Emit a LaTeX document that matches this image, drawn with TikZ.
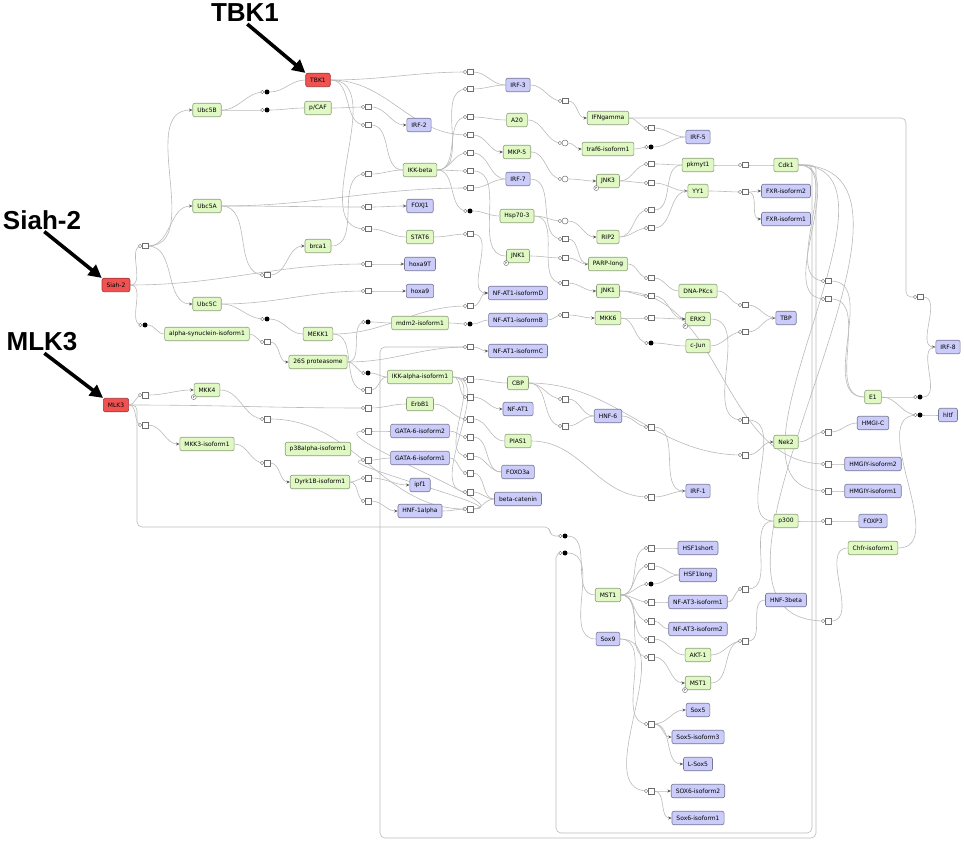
\documentclass[tikz,border=0pt]{standalone}
\usepackage{fontspec}
\setmainfont{DejaVu Sans}
\newfontfamily\calloutfont{Liberation Sans}
\usetikzlibrary{arrows.meta}
\definecolor{genegreen}{RGB}{224,248,196}
\definecolor{greenedge}{RGB}{140,160,120}
\definecolor{geneblue}{RGB}{204,204,250}
\definecolor{blueedge}{RGB}{118,118,150}
\definecolor{genered}{RGB}{240,82,82}
\definecolor{rededge}{RGB}{170,50,50}
\definecolor{procedge}{RGB}{110,110,110}
\definecolor{wiregray}{RGB}{186,186,186}
\definecolor{tipgray}{RGB}{90,90,90}
\pgfdeclarelayer{wires}
\pgfsetlayers{wires,main}

\begin{document}
\begin{tikzpicture}[x=1pt, y=-1pt,
    gene/.style={draw, rounded corners=2pt, minimum height=13.5pt, inner xsep=4.5pt, inner ysep=0pt, line width=0.6pt, font=\fontsize{6}{6}\selectfont},
    protein/.style={gene, fill=genegreen, draw=greenedge},
    factor/.style={gene, fill=geneblue, draw=blueedge},
    seed/.style={gene, fill=genered, draw=rededge},
    port/.style={circle, draw=procedge, fill=white, minimum size=3.5pt, inner sep=0pt, line width=0.4pt},
    proc/.style={draw=procedge, fill=white, minimum size=5.5pt, inner sep=0pt, line width=0.5pt, label={[port]west:}},
    ubq/.style={circle, fill=black, minimum size=5pt, inner sep=0pt, label={[port]west:}},
    assoc/.style={circle, draw=procedge, fill=white, minimum size=6pt, inner sep=0pt, line width=0.5pt, label={[port]west:}},
    pstate/.style={circle, draw=procedge, fill=white, inner sep=0pt, minimum size=5pt, line width=0.4pt, font=\fontsize{3}{3}\selectfont, anchor=center},
    phos/.style={label={[pstate]south west:P}},
    wire/.style={draw=wiregray, line width=0.6pt},
    act/.style={wire, -{Stealth[length=3.5pt, width=3pt, color=tipgray]}},
    callout/.style={font=\calloutfont\bfseries\fontsize{26}{26}\selectfont, inner sep=0pt},
    pointer/.style={line width=3.6pt, shorten <=3pt, -{Triangle[length=13pt, width=13pt]}}
]
\useasboundingbox (0,0) rectangle (964,842);

\node[seed] (tbk1) at (318,80) {TBK1};
\node[seed] (siah) at (116,285) {Siah-2};
\node[seed] (mlk3) at (116,405) {MLK3};

\node[protein] (ubc5b) at (207,110) {Ubc5B};
\node[protein] (pcaf) at (318,108) {p/CAF};
\node[protein] (ubc5a) at (207,206) {Ubc5A};
\node[protein] (brca1) at (318,246) {brca1};
\node[protein] (ubc5c) at (207,304) {Ubc5C};
\node[protein] (asyn) at (207,334) {alpha-synuclein-isoform1};
\node[protein] (mekk1) at (318,334) {MEKK1};
\node[protein] (prot) at (318,362) {26S proteasome};
\node[protein,phos] (mkk4) at (207,390) {MKK4};
\node[protein] (mkk3) at (207,444) {MKK3-isoform1};
\node[protein] (p38) at (318,449) {p38alpha-isoform1};
\node[protein] (dyrk) at (320,482) {Dyrk1B-isoform1};
\node[protein] (ikkb) at (420,170) {IKK-beta};
\node[protein] (stat6) at (420,237) {STAT6};
\node[protein] (mdm2) at (420,323) {mdm2-isoform1};
\node[protein] (ikka) at (420,377) {IKK-alpha-isoform1};
\node[protein] (erbb1) at (420,404) {ErbB1};
\node[protein] (a20) at (517,120) {A20};
\node[protein] (mkp5) at (517,152) {MKP-5};
\node[protein] (hsp) at (517,216) {Hsp70-3};
\node[protein,phos] (jnk1a) at (518,256) {JNK1};
\node[protein] (cbp) at (518,383) {CBP};
\node[protein] (pias1) at (518,441) {PIAS1};
\node[protein] (ifng) at (608,118) {IFNgamma};
\node[protein] (traf6) at (608,149) {traf6-isoform1};
\node[protein,phos] (jnk3) at (608,181) {JNK3};
\node[protein] (rip2) at (608,237) {RIP2};
\node[protein] (parp) at (608,264) {PARP-long};
\node[protein] (jnk1b) at (608,291) {JNK1};
\node[protein] (mkk6) at (608,318) {MKK6};
\node[protein] (msta) at (608,595) {MST1};
\node[protein] (pkmyt) at (698,165) {pkmyt1};
\node[protein] (yy1) at (698,191) {YY1};
\node[protein] (dnapk) at (698,291) {DNA-PKcs};
\node[protein,phos] (erk2) at (698,319) {ERK2};
\node[protein] (cjun) at (698,346) {c-Jun};
\node[protein] (akt1) at (698,655) {AKT-1};
\node[protein,phos] (mstb) at (698,683) {MST1};
\node[protein] (cdk1) at (786,165) {Cdk1};
\node[protein] (nek2) at (786,442) {Nek2};
\node[protein] (p300) at (786,521) {p300};
\node[protein] (e1) at (873,397) {E1};
\node[protein] (chfr) at (873,548) {Chfr-isoform1};

\node[factor] (irf2) at (419,125) {IRF-2};
\node[factor] (foxj1) at (420,206) {FOXJ1};
\node[factor] (hoxa9t) at (420,264) {hoxa9T};
\node[factor] (hoxa9) at (420,291) {hoxa9};
\node[factor] (gata2) at (420,431) {GATA-6-isoform2};
\node[factor] (gata1) at (420,458) {GATA-6-isoform1};
\node[factor] (ipf1) at (420,485) {ipf1};
\node[factor] (hnf1a) at (420,511) {HNF-1alpha};
\node[factor] (irf3) at (518,85) {IRF-3};
\node[factor] (irf7) at (518,179) {IRF-7};
\node[factor] (nfatd) at (518,293) {NF-AT1-isoformD};
\node[factor] (nfatb) at (518,320) {NF-AT1-isoformB};
\node[factor] (nfatc) at (518,351) {NF-AT1-isoformC};
\node[factor] (nfat1) at (518,409) {NF-AT1};
\node[factor] (foxo3a) at (518,472) {FOXO3a};
\node[factor] (bcat) at (518,499) {beta-catenin};
\node[factor] (hnf6) at (608,416) {HNF-6};
\node[factor] (sox9) at (608,639) {Sox9};
\node[factor] (irf5) at (698,137) {IRF-5};
\node[factor] (irf1) at (698,491) {IRF-1};
\node[factor] (hsf1s) at (698,548) {HSF1short};
\node[factor] (hsf1l) at (698,575) {HSF1long};
\node[factor] (nfat3a) at (698,602) {NF-AT3-isoform1};
\node[factor] (nfat3b) at (698,629) {NF-AT3-isoform2};
\node[factor] (sox5) at (698,710) {Sox5};
\node[factor] (sox5i) at (698,737) {Sox5-isoform3};
\node[factor] (lsox5) at (698,764) {L-Sox5};
\node[factor] (sox6b) at (698,791) {SOX6-isoform2};
\node[factor] (sox6a) at (698,818) {Sox6-isoform1};
\node[factor] (fxr2) at (786,191) {FXR-isoform2};
\node[factor] (fxr1) at (786,219) {FXR-isoform1};
\node[factor] (tbp) at (786,318) {TBP};
\node[factor] (hnf3b) at (786,600) {HNF-3beta};
\node[factor] (hmgic) at (873,423) {HMGI-C};
\node[factor] (hmgy2) at (873,464) {HMGIY-isoform2};
\node[factor] (hmgy1) at (873,491) {HMGIY-isoform1};
\node[factor] (foxp3) at (873,521) {FOXP3};
\node[factor] (irf8) at (948,347) {IRF-8};
\node[factor] (hltf) at (948,415) {hltf};

\foreach \n/\s/\y in {p1/proc/246, d1/ubq/325, p2/proc/395, p3/proc/425}
    \node[\s] (\n) at (145,\y) {};
\foreach \n/\s/\y in {d2/ubq/92, d3/ubq/110, p4/proc/275, d4/ubq/319, p5/proc/342, p6/proc/419, p7/proc/463}
    \node[\s] (\n) at (267,\y) {};
\foreach \n/\s/\y in {p8/proc/107, p9/proc/125, p10/proc/174, p11/proc/207, p12/proc/229, p13/proc/264, p14/proc/291, d5/ubq/322, d6/ubq/373, p15/proc/390, p16/proc/408, p17/proc/431, p18/proc/460, p19/proc/478, p20/proc/501}
    \node[\s] (\n) at (368,\y) {};
\foreach \n/\s/\y in {p21/proc/72, p22/proc/89, p23/proc/117, p24/proc/135, p25/proc/153, p26/proc/171, p27/proc/188, d7/ubq/211, p28/proc/234, p29/proc/306, d8/ubq/324, p30/proc/347, p31/proc/379, p32/proc/397, p33/proc/419, p34/proc/437, p35/proc/456, p36/proc/473, p37/proc/492, p38/proc/509}
    \node[\s] (\n) at (470,\y) {};
\foreach \n/\s/\y in {p39/proc/101, c1/assoc/143, c2/assoc/179, c3/assoc/221, p40/proc/239, p41/proc/258, p42/proc/283, p43/proc/315, p44/proc/399, p45/proc/426, d9/ubq/536, d10/ubq/553}
    \node[\s] (\n) at (565,\y) {};
\foreach \n/\s/\y in {p46/proc/128, d11/ubq/147, p47/proc/164, p48/proc/183, p49/proc/210, p50/proc/228, p51/proc/278, p52/proc/296, p53/proc/318, d12/ubq/343, p54/proc/427, p55/proc/497, p56/proc/548, p57/proc/566, d13/ubq/584, p58/proc/602, p59/proc/621, p60/proc/639, p61/proc/657, p62/proc/724, p63/proc/791}
    \node[\s] (\n) at (651,\y) {};
\foreach \n/\s/\y in {p64/proc/165, p65/proc/192, p66/proc/305, p67/proc/332, p68/proc/420, p69/proc/455, p70/proc/589, p71/proc/641}
    \node[\s] (\n) at (745,\y) {};
\foreach \n/\s/\y in {p72/proc/281, p73/proc/299, p74/proc/432, p75/proc/464, p76/proc/491, p77/proc/521, p78/proc/621}
    \node[\s] (\n) at (828,\y) {};
\foreach \n/\s/\y in {p79/proc/297, d14/ubq/397, d15/ubq/415}
    \node[\s] (\n) at (920,\y) {};

\coordinate (mlkdrop) at (137,527);
\coordinate (mlkrise) at (550,527);
\coordinate (ifngturn) at (906,118);
\coordinate (cdkne) at (812,833);
\coordinate (cdknw) at (556,833);
\coordinate (cdkse) at (816,838);
\coordinate (cdksw) at (380,838);

\begin{pgfonlayer}{wires}
\foreach \a/\b in {siah/p1, siah/d1, mlk3/p2, mlk3/p3, ubc5b/d2, ubc5b/d3, ubc5a/p4, ubc5c/d4, asyn/p5, mkk4/p6, mkk3/p7,
    pcaf/p8, tbk1/p9, brca1/p10, ubc5a/p11, tbk1/p12, siah/p13, ubc5c/p14, prot/d5, prot/d6, mekk1/p15, mlk3/p16, p38/p17, p38/p18, dyrk/p19, dyrk/p20,
    tbk1/p21, ikkb/p22, ikkb/p23, tbk1/p24, ikkb/p25, ikkb/p26, ubc5a/p27, ikkb/d7, stat6/p28, mekk1/p29, mdm2/d8, prot/p30, ikka/p31, ikka/p32, erbb1/p33, gata2/p34, ikka/p35, gata1/p36, ikka/p37, hnf1a/p38,
    irf3/p39, a20/c1, mkp5/c2, hsp/c3, irf7/p40, jnk1a/p41, hsp/p42, nfatb/p43, cbp/p44, cbp/p45,
    ifng/p46, traf6/d11, jnk3/p47, jnk3/p48, rip2/p49, rip2/p50, parp/p51, jnk1b/p52, mkk6/p53, mkk6/d12, hnf6/p54, pias1/p55,
    msta/p56, msta/p57, msta/d13, msta/p58, msta/p59, msta/p60, msta/p61, sox9/p62, sox9/p63,
    pkmyt/p64, yy1/p65, dnapk/p66, cjun/p67, erk2/p68, cbp/p69, nfat3a/p70, akt1/p71, mstb/p71,
    cdk1/p72, cdk1/p73, nek2/p74, jnk1b/p75, cdk1/p76, p300/p77, cdk1/p78, e1/d14, e1/d15, chfr/d15}
    \draw[wire] (\a.east) to[out=0, in=180] (\b.west);
\foreach \a/\b in {p1/ubc5b, p1/ubc5a, p1/ubc5c, p2/mkk4, p3/mkk3, p4/brca1, p5/prot, p6/p38, p7/dyrk, p8/irf2, p11/foxj1, p13/hoxa9t, p14/hoxa9, p19/ipf1, p20/hnf1a,
    p24/mkp5, p28/nfatd, p29/nfatd, p30/nfatc, p32/nfat1, p39/ifng, c1/traf6, c2/jnk3, c3/rip2, p41/parp, p42/jnk1b, p43/mkk6,
    p48/yy1, p52/erk2, p53/erk2, p54/irf1, p61/mstb, p62/sox5, p62/sox5i, p62/lsox5, p63/sox6b, p63/sox6a, p65/fxr2, p65/fxr1, p67/tbp, p69/nek2, p79/irf8}
    \draw[act] (\a.east) to[out=0, in=180] (\b.west);
\foreach \a/\b in {d1/asyn, d2/tbk1, d3/pcaf, d4/mekk1, p9/ikkb, p10/ikkb, p12/stat6, d5/mdm2, d6/ikka, p15/ikka, p16/erbb1, p17/gata2, p18/gata1,
    p21/irf3, p22/irf3, p23/a20, p25/irf7, p26/jnk1a, p27/irf7, d7/hsp, d8/nfatb, p31/cbp, p33/pias1, p34/foxo3a, p35/foxo3a, p36/bcat, p37/bcat, p38/bcat,
    p40/parp, p44/hnf6, p45/hnf6, d9/msta, d10/sox9, p46/irf5, d11/irf5, p47/pkmyt, p49/pkmyt, p50/yy1, p51/dnapk, d12/cjun, p55/irf1,
    p56/hsf1s, p57/hsf1l, d13/hsf1l, p58/nfat3a, p59/nfat3b, p60/akt1, p64/cdk1, p66/tbp, p68/p300, p70/p300, p71/hnf3b,
    p72/e1, p73/e1, p74/hmgic, p75/hmgy2, p76/hmgy1, p77/foxp3, p78/chfr, d14/irf8, d15/hltf}
    \draw[wire] (\a.east) to[out=0, in=180] (\b.west);
\draw[wire, rounded corners=5pt] (mlk3.east) -| (mlkdrop) -- (mlkrise) |- (d9.west);
\draw[wire, rounded corners=5pt] (ifng.east) -- (ifngturn) |- (p79.west);
\draw[wire, rounded corners=5pt] (cdk1.east) -| (cdkne) -- (cdknw) |- (d10.west);
\draw[wire, rounded corners=5pt] (cdk1.east) -| (cdkse) -- (cdksw) |- (p30.west);
\end{pgfonlayer}

\node[callout] (lbltbk) at (245,13) {TBK1};
\node[callout] (lblsiah) at (42,220) {Siah-2};
\node[callout] (lblmlk) at (42,342) {MLK3};
\draw[pointer] (lbltbk.south) -- (tbk1.north west);
\draw[pointer] (lblsiah.south) -- (siah.north west);
\draw[pointer] (lblmlk.south) -- (mlk3.north west);

\end{tikzpicture}
\end{document}
